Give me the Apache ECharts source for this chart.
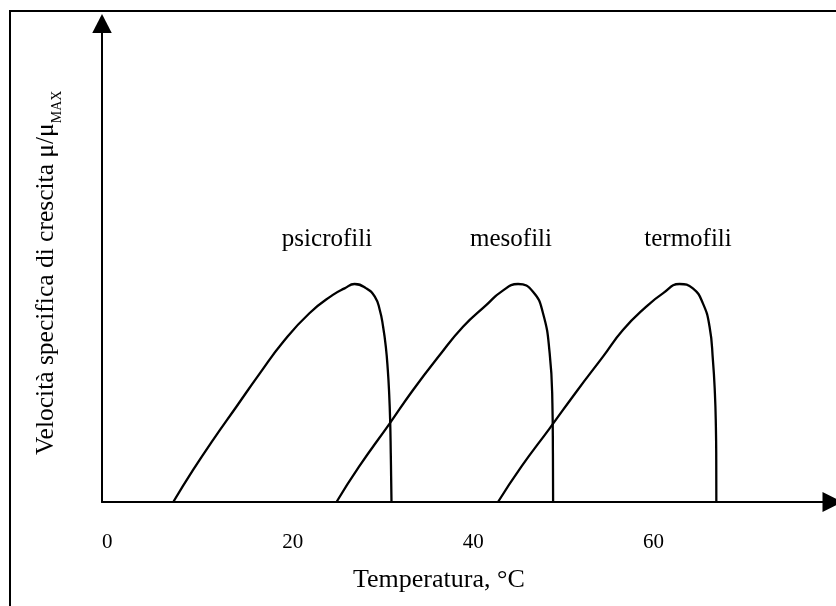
<!DOCTYPE html>
<html>
<head>
<meta charset="utf-8">
<script src="https://cdn.jsdelivr.net/npm/echarts@6/dist/echarts.min.js"></script>
<style>
html,body{margin:0;padding:0;background:#fff;}
#chart{width:836px;height:606px;}
</style>
</head>
<body>
<div id="chart"></div>
<script>
// Temperature (°C) and relative specific growth rate (μ/μmax)
const psicroT = [7.9, 10.1, 12.3, 14.9, 17.5, 20.1, 23.0, 25.6, 26.9, 28.0, 29.3, 30.25, 30.8, 31.17, 31.47, 31.69, 31.84, 31.95, 32.02, 32.06, 32.1];
const psicroV = [0, 0.147, 0.284, 0.437, 0.590, 0.735, 0.866, 0.950, 0.980, 1.0, 0.980, 0.942, 0.881, 0.804, 0.713, 0.606, 0.499, 0.376, 0.223, 0.116, 0];

const mesoT = [26.0, 28.5, 31.91, 34.49, 37.45, 40.03, 42.63, 44.29, 46.13, 47.79, 48.90, 49.64, 49.94, 50.0, 50.02];
const mesoV = [0, 0.162, 0.361, 0.514, 0.674, 0.804, 0.904, 0.965, 1.0, 0.965, 0.866, 0.682, 0.453, 0.223, 0];

const termoT = [43.91, 46.5, 49.64, 52.60, 55.55, 57.76, 60.35, 62.19, 64.04, 65.52, 66.63, 67.37, 67.74, 67.96, 68.07, 68.11, 68.12];
const termoV = [0, 0.162, 0.338, 0.506, 0.667, 0.789, 0.896, 0.957, 1.0, 0.980, 0.911, 0.804, 0.651, 0.499, 0.345, 0.193, 0];

const seriesNames = ['psicrofili', 'mesofili', 'termofili'];
const xTickLabels = [0, 20, 40, 60];
const xTitle = 'Temperatura, °C';
const yTitleMain = 'Velocità specifica di crescita μ/μ';
const yTitleSub = 'MAX';

const zip = (xs, ys) => xs.map((x, i) => [x, ys[i]]);
const FONT = '"Liberation Serif", "DejaVu Serif", serif';

const chart = echarts.init(document.getElementById('chart'), null, {renderer: 'canvas'});
const lineStyle = {color: '#000', width: 2.3};
const mkSeries = (name, xs, ys) => ({
  name, type: 'line', data: zip(xs, ys), showSymbol: false, symbol: 'none',
  smooth: 0.5, lineStyle, silent: true
});

chart.setOption({
  animation: false,
  backgroundColor: '#fff',
  grid: {left: 102, right: 3.5, top: 23.5, bottom: 104, containLabel: false},
  xAxis: {
    type: 'value', min: 0, max: 81, interval: 20,
    axisLine: {show: true, onZero: false, lineStyle: {color: '#000', width: 2}, symbol: ['none', 'triangle'], symbolSize: [20, 20]},
    axisTick: {show: false},
    splitLine: {show: false},
    axisLabel: {
      show: true, margin: 30, align: 'left', color: '#000', fontSize: 21, fontFamily: FONT,
      formatter: v => xTickLabels.includes(v) ? String(v) : ''
    }
  },
  yAxis: {
    type: 'value', min: 0, max: 2.195,
    axisLine: {show: true, onZero: false, lineStyle: {color: '#000', width: 2}, symbol: ['none', 'triangle'], symbolSize: [19.5, 19]},
    axisTick: {show: false},
    splitLine: {show: false},
    axisLabel: {show: false}
  },
  series: [
    mkSeries(seriesNames[0], psicroT, psicroV),
    mkSeries(seriesNames[1], mesoT, mesoV),
    mkSeries(seriesNames[2], termoT, termoV)
  ],
  graphic: [
    {type: 'rect', shape: {x: 10, y: 11, width: 840, height: 620}, style: {fill: 'none', stroke: '#000', lineWidth: 2}, silent: true},
    {type: 'text', x: 327, y: 239, style: {text: seriesNames[0], fontSize: 25, fontFamily: FONT, fill: '#000', align: 'center', verticalAlign: 'middle'}},
    {type: 'text', x: 511, y: 239, style: {text: seriesNames[1], fontSize: 25, fontFamily: FONT, fill: '#000', align: 'center', verticalAlign: 'middle'}},
    {type: 'text', x: 688, y: 239, style: {text: seriesNames[2], fontSize: 25, fontFamily: FONT, fill: '#000', align: 'center', verticalAlign: 'middle'}},
    {type: 'text', x: 353, y: 580, style: {text: xTitle, fontSize: 26, fontFamily: FONT, fill: '#000', align: 'left', verticalAlign: 'middle'}},
    {type: 'text', x: 46.5, y: 455, rotation: Math.PI / 2,
      style: {
        text: '{a|' + yTitleMain + '}{b|' + yTitleSub + '}',
        align: 'left', verticalAlign: 'middle', fill: '#000',
        rich: {
          a: {fontSize: 25.5, fontFamily: FONT, fill: '#000'},
          b: {fontSize: 14, fontFamily: FONT, fill: '#000', padding: [21, 0, 0, 0]}
        }
      }
    }
  ]
});
</script>
</body>
</html>
